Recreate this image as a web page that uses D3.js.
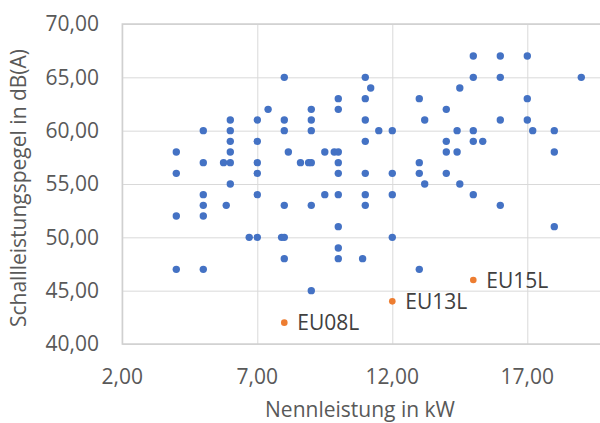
<!DOCTYPE html>
<html>
<head>
<meta charset="utf-8">
<script src="https://cdn.jsdelivr.net/npm/d3@7"></script>
<style>
  body { margin: 0; background: #fff; }
  svg { display: block; font-family: "Open Sans", sans-serif; }
</style>
</head>
<body>
<div id="chart"></div>
<script>
// Nennleistung (kW) und Schallleistungspegel (dB(A)) der Vergleichsgeräte
const powerKW = [
  8, 7.4, 9, 10, 10, 6, 7, 8, 9, 5, 6, 8, 9, 4, 6, 7, 6, 8.15, 9.5, 9.85, 10,
  5, 5.75, 6, 7, 8.6, 8.9, 9, 10, 4, 7, 10, 6, 5, 7, 9.5, 10,
  15, 16, 17, 11, 15, 16, 19, 11.2, 14.5, 11, 13, 17, 14, 11, 13.2, 16, 17,
  11.5, 12, 14.4, 15, 17.2, 18, 11, 14, 15, 15.35, 14, 14.4, 18, 13, 11, 12,
  13, 14, 13.2, 14.5, 11, 12, 15,
  5, 5.85, 8, 9, 4, 5, 10, 6.7, 7, 7.9, 8, 10, 8, 10, 4, 5, 9,
  11, 16, 18, 12, 10.9, 13
];
const levelDB = [
  65, 62, 62, 63, 62, 61, 61, 61, 61, 60, 60, 60, 60, 58, 59, 59, 58, 58, 58, 58, 58,
  57, 57, 57, 57, 57, 57, 57, 57, 56, 56, 56, 55, 54, 54, 54, 54,
  67, 67, 67, 65, 65, 65, 65, 64, 64, 63, 63, 63, 62, 61, 61, 61, 61,
  60, 60, 60, 60, 60, 60, 59, 59, 59, 59, 58, 58, 58, 57, 56, 56,
  56, 56, 55, 55, 54, 54, 54,
  53, 53, 53, 53, 52, 52, 51, 50, 50, 50, 50, 49, 48, 48, 47, 47, 45,
  53, 53, 51, 50, 48, 47
];

// hervorgehobene Modelle
const euNames = ["EU08L", "EU13L", "EU15L"];
const euPower = [8, 12, 15];
const euLevel = [42, 44, 46];

const xTicks = [2, 7, 12, 17];
const yTicks = [40, 45, 50, 55, 60, 65, 70];

const width = 600, height = 423;
const marginLeft = 122.3, marginTop = 24, plotH = 320;

const de = d3.formatLocale({ decimal: ",", thousands: ".", grouping: [3], currency: ["", " €"] });
const fmt = de.format(".2f");

// Achse läuft rechts über den Bildrand hinaus (bis 22)
const x = d3.scaleLinear().domain([2, 22]).range([marginLeft, marginLeft + 20 * 27]);
const y = d3.scaleLinear().domain([40, 70]).range([marginTop + plotH, marginTop]);

const svg = d3.select("#chart").append("svg")
  .attr("width", width)
  .attr("height", height);

// Gitternetz
svg.append("g")
  .attr("transform", `translate(0,${marginTop + plotH})`)
  .call(d3.axisBottom(x).tickValues(xTicks).tickSize(-plotH).tickFormat(""))
  .call(g => g.select(".domain").remove())
  .call(g => g.selectAll("line").attr("stroke", "#d9d9d9"));

svg.append("g")
  .attr("transform", `translate(${marginLeft},0)`)
  .call(d3.axisLeft(y).tickValues(yTicks).tickSize(-(width + 100)).tickFormat(""))
  .call(g => g.select(".domain").remove())
  .call(g => g.selectAll("line").attr("stroke", "#d9d9d9"));

// Rahmen
svg.append("rect")
  .attr("x", marginLeft)
  .attr("y", marginTop)
  .attr("width", width + 100)
  .attr("height", plotH)
  .attr("fill", "none")
  .attr("stroke", "#d0d0d0")
  .attr("stroke-width", 1.5);

// Achsenbeschriftung
svg.append("g")
  .selectAll("text")
  .data(yTicks)
  .enter()
  .append("text")
  .attr("x", 99)
  .attr("y", d => y(d))
  .attr("dy", "0.35em")
  .attr("text-anchor", "end")
  .attr("fill", "#595959")
  .style("font-size", "21px")
  .text(d => fmt(d));

svg.append("g")
  .selectAll("text")
  .data(xTicks)
  .enter()
  .append("text")
  .attr("x", d => x(d))
  .attr("y", 384)
  .attr("text-anchor", "middle")
  .attr("fill", "#595959")
  .style("font-size", "21px")
  .text(d => fmt(d));

svg.append("text")
  .attr("x", 360)
  .attr("y", 417)
  .attr("text-anchor", "middle")
  .attr("fill", "#595959")
  .style("font-size", "21px")
  .text("Nennleistung in kW");

svg.append("text")
  .attr("transform", `translate(26,${marginTop + plotH / 2 + 4}) rotate(-90)`)
  .attr("text-anchor", "middle")
  .attr("fill", "#595959")
  .style("font-size", "21px")
  .text("Schallleistungspegel in dB(A)");

// Punkte
svg.append("g")
  .selectAll("circle")
  .data(powerKW.map((p, i) => [p, levelDB[i]]))
  .enter()
  .append("circle")
  .attr("cx", d => x(d[0]))
  .attr("cy", d => y(d[1]))
  .attr("r", 3.7)
  .attr("fill", "#4472c4");

const eu = svg.append("g")
  .selectAll("g")
  .data(euNames.map((n, i) => ({ name: n, p: euPower[i], l: euLevel[i] })))
  .enter()
  .append("g")
  .attr("transform", d => `translate(${x(d.p)},${y(d.l)})`);

eu.append("circle")
  .attr("r", 3.3)
  .attr("fill", "#ed7d31");

eu.append("text")
  .attr("x", 13)
  .attr("dy", "0.36em")
  .attr("fill", "#404040")
  .style("font-size", "21px")
  .text(d => d.name);
</script>
</body>
</html>
